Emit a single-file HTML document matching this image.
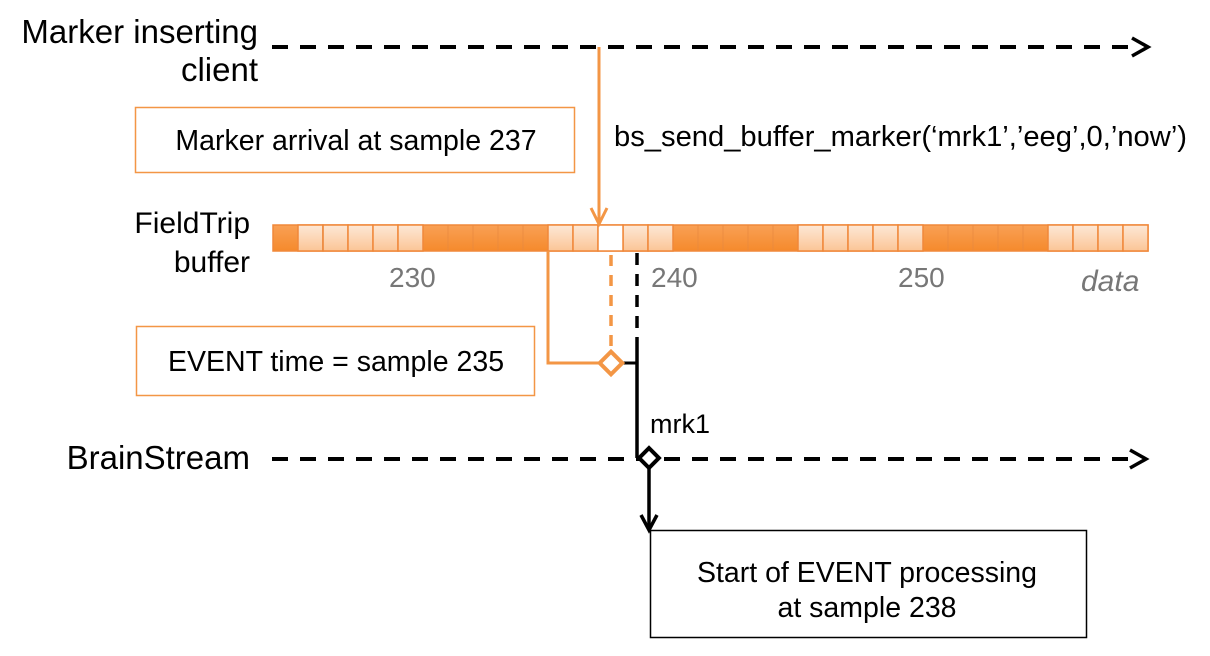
<!DOCTYPE html>
<html><head><style>
body{margin:0;width:1210px;height:651px;background:#fff;overflow:hidden;font-family:"Liberation Sans",sans-serif;}
</style></head><body>
<svg width="1210" height="651" xmlns="http://www.w3.org/2000/svg" font-family="Liberation Sans, sans-serif">
<defs>
<linearGradient id="dk" x1="0" y1="0" x2="0" y2="1"><stop offset="0" stop-color="#f9a055"/><stop offset="1" stop-color="#f58a2c"/></linearGradient>
<linearGradient id="lt" x1="0" y1="0" x2="0" y2="1"><stop offset="0" stop-color="#fde8d6"/><stop offset="1" stop-color="#fbc596"/></linearGradient>
</defs>
<g font-size="33" fill="#000">
<text x="258" y="43" text-anchor="end">Marker inserting</text>
<text x="258" y="81" text-anchor="end">client</text>
<text x="250" y="233" text-anchor="end" font-size="30">FieldTrip</text>
<text x="250" y="272" text-anchor="end" font-size="30">buffer</text>
<text x="250" y="469" text-anchor="end">BrainStream</text>
</g>
<line x1="272" y1="47" x2="1140" y2="47" stroke="#000" stroke-width="4" stroke-dasharray="16,12"/>
<polyline points="1132,38 1148,47 1132,56" fill="none" stroke="#000" stroke-width="3.5"/>
<line x1="272" y1="459" x2="1140" y2="459" stroke="#000" stroke-width="4" stroke-dasharray="16,12"/>
<polyline points="1130,450 1146,459 1130,468" fill="none" stroke="#000" stroke-width="3.5"/>
<g stroke="#f0883a" stroke-width="1.5">
<rect x="273" y="225" width="875" height="26" fill="url(#dk)"/>
<g fill="url(#lt)">
<rect x="298" y="225" width="25" height="26"/><rect x="323" y="225" width="25" height="26"/><rect x="348" y="225" width="25" height="26"/><rect x="373" y="225" width="25" height="26"/><rect x="398" y="225" width="25" height="26"/>
<rect x="548" y="225" width="25" height="26"/><rect x="573" y="225" width="25" height="26"/>
<rect x="623" y="225" width="25" height="26"/><rect x="648" y="225" width="25" height="26"/>
<rect x="798" y="225" width="25" height="26"/><rect x="823" y="225" width="25" height="26"/><rect x="848" y="225" width="25" height="26"/><rect x="873" y="225" width="25" height="26"/><rect x="898" y="225" width="25" height="26"/>
<rect x="1048" y="225" width="25" height="26"/><rect x="1073" y="225" width="25" height="26"/><rect x="1098" y="225" width="25" height="26"/><rect x="1123" y="225" width="25" height="26"/>
</g>
<rect x="598" y="225" width="25" height="26" fill="#fff"/>
<g stroke="#e88a40" stroke-opacity="0.5"><line x1="323" y1="225" x2="323" y2="251"/><line x1="448" y1="225" x2="448" y2="251"/><line x1="473" y1="225" x2="473" y2="251"/><line x1="498" y1="225" x2="498" y2="251"/><line x1="523" y1="225" x2="523" y2="251"/><line x1="698" y1="225" x2="698" y2="251"/><line x1="723" y1="225" x2="723" y2="251"/><line x1="748" y1="225" x2="748" y2="251"/><line x1="773" y1="225" x2="773" y2="251"/><line x1="948" y1="225" x2="948" y2="251"/><line x1="973" y1="225" x2="973" y2="251"/><line x1="998" y1="225" x2="998" y2="251"/><line x1="1023" y1="225" x2="1023" y2="251"/></g>
</g>
<g font-size="28" fill="#777"><text x="389" y="287">230</text><text x="651" y="287">240</text><text x="898" y="287">250</text><text x="1081" y="291" font-style="italic" font-size="30">data</text></g>
<line x1="599" y1="47" x2="599" y2="224" stroke="#f39645" stroke-width="3"/>
<polyline points="591,208 599,224 607,208" fill="none" stroke="#f39645" stroke-width="3"/>
<text x="614" y="146" font-size="28.5" textLength="573" lengthAdjust="spacingAndGlyphs">bs_send_buffer_marker(‘mrk1’,’eeg’,0,’now’)</text>
<rect x="135.5" y="107.5" width="439" height="65" fill="#fff" stroke="#f39645" stroke-width="1.5"/>
<text x="356" y="150" font-size="28.5" text-anchor="middle">Marker arrival at sample 237</text>
<rect x="136.5" y="326.5" width="398" height="69" fill="#fff" stroke="#f39645" stroke-width="1.5"/>
<text x="336" y="371" font-size="28.5" text-anchor="middle">EVENT time = sample 235</text>
<polyline points="548,251 548,363 600,363" fill="none" stroke="#f39645" stroke-width="3"/>
<line x1="611" y1="255" x2="611" y2="350" stroke="#f39645" stroke-width="3.5" stroke-dasharray="11,9"/>
<line x1="622" y1="363" x2="637" y2="363" stroke="#000" stroke-width="3"/>
<rect x="603" y="355" width="16" height="16" transform="rotate(45 611 363)" fill="#fff" stroke="#f39645" stroke-width="4"/>
<line x1="637" y1="253" x2="637" y2="340" stroke="#000" stroke-width="3.5" stroke-dasharray="12,9"/>
<line x1="637" y1="340" x2="637" y2="458" stroke="#000" stroke-width="3.5"/>
<text x="650" y="433" font-size="27">mrk1</text>
<line x1="649" y1="466" x2="649" y2="530" stroke="#000" stroke-width="3.5"/>
<polyline points="641,515 649,530 657,515" fill="none" stroke="#000" stroke-width="3.5"/>
<rect x="642" y="451" width="14" height="14" transform="rotate(45 649 458)" fill="#fff" stroke="#000" stroke-width="4"/>
<rect x="650.5" y="530.5" width="436" height="107" fill="#fff" stroke="#000" stroke-width="1.5"/>
<text x="867" y="582" font-size="28.5" text-anchor="middle">Start of EVENT processing</text>
<text x="867" y="617" font-size="28.5" text-anchor="middle">at sample 238</text>
</svg>
</body></html>
